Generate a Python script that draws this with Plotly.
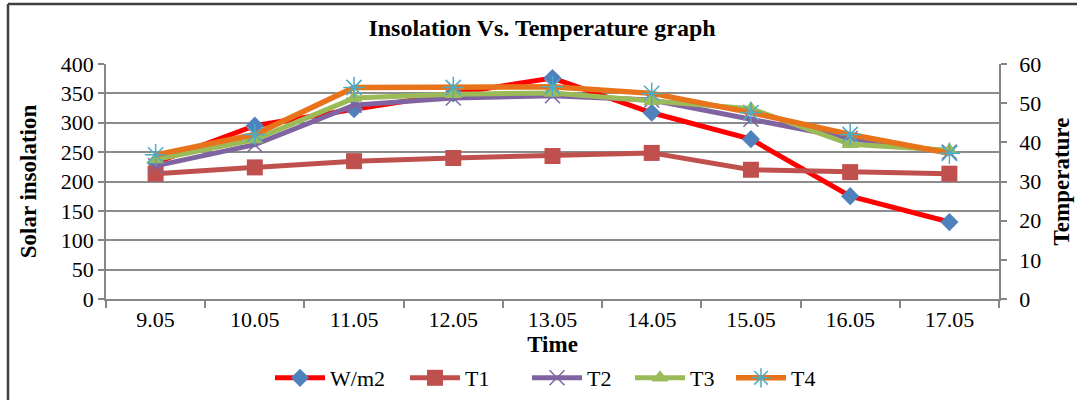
import plotly.graph_objects as go

categories = ["9.05", "10.05", "11.05", "12.05", "13.05", "14.05", "15.05", "16.05", "17.05"]
w_m2 = [232, 295, 323, 350, 376, 317, 272, 175, 131]
t1 = [32.0, 33.6, 35.2, 36.0, 36.5, 37.3, 33.0, 32.4, 32.0]
t2 = [34.0, 39.4, 49.5, 51.3, 51.9, 50.8, 45.9, 41.0, 37.5]
t3 = [35.6, 40.7, 51.3, 52.3, 52.6, 50.5, 48.6, 39.5, 38.0]
t4 = [36.8, 42.0, 54.0, 54.0, 54.2, 52.5, 47.6, 42.0, 37.2]

y1_ticks = [0, 50, 100, 150, 200, 250, 300, 350, 400]
y2_ticks = [0, 10, 20, 30, 40, 50, 60]

FONT = "Liberation Serif"
W, H = 1077, 400
L, R, T, B = 106, 78, 64, 101
pw, ph = W - L - R, H - T - B

# legend entry left positions (px) in the container
legend_x = [270, 405, 527, 630, 731]
legend_names = ["legend", "legend2", "legend3", "legend4", "legend5"]

fig = go.Figure()
fig.add_trace(go.Scatter(x=categories, y=w_m2, name="W/m2", mode="lines+markers",
                         line=dict(color="#FF0000", width=5),
                         marker=dict(symbol="diamond", size=14, color="#4F81BD"),
                         yaxis="y", legend="legend"))
fig.add_trace(go.Scatter(x=categories, y=t1, name="T1", mode="lines+markers",
                         line=dict(color="#C0504D", width=5),
                         marker=dict(symbol="square", size=16, color="#C0504D"),
                         yaxis="y2", legend="legend2"))
fig.add_trace(go.Scatter(x=categories, y=t2, name="T2", mode="lines+markers",
                         line=dict(color="#8064A2", width=5),
                         marker=dict(symbol="x-thin", size=15, color="#8064A2",
                                     line=dict(color="#8064A2", width=1.5)),
                         yaxis="y2", legend="legend3"))
fig.add_trace(go.Scatter(x=categories, y=t3, name="T3", mode="lines+markers",
                         line=dict(color="#9BBB59", width=5),
                         marker=dict(symbol="triangle-up", size=15, color="#9BBB59"),
                         yaxis="y2", legend="legend4"))
fig.add_trace(go.Scatter(x=categories, y=t4, name="T4", mode="lines+markers",
                         line=dict(color="#E8731A", width=5.5),
                         marker=dict(symbol="asterisk-open", size=18, color="#4BACC6",
                                     line=dict(color="#4BACC6", width=1.5)),
                         yaxis="y2", legend="legend5"))

tickfont = dict(family=FONT, size=22, color="#000000")
titlefont = dict(family=FONT, size=23, color="#000000", weight="bold")

layout = dict(
    width=W, height=H,
    margin=dict(l=L, r=R, t=T, b=B, autoexpand=False),
    paper_bgcolor="white", plot_bgcolor="white",
    font=dict(family=FONT, color="#000000"),
    title=dict(text="<b>Insolation Vs. Temperature graph</b>",
               font=dict(family=FONT, size=24, color="#000000"),
               x=542 / W, xanchor="center", xref="container",
               y=1 - 28 / H, yanchor="middle", yref="container"),
    xaxis=dict(type="category", range=[-0.5, 8.5], tickson="boundaries",
               ticks="outside", ticklen=7, tickcolor="#868686", tickwidth=1.5,
               showline=True, linecolor="#868686", linewidth=1.5,
               showgrid=False, tickfont=tickfont, automargin=False,
               title=dict(text="Time", font=titlefont, standoff=5)),
    yaxis=dict(range=[0, 400], tickvals=y1_ticks, ticks="outside", ticklen=6,
               tickcolor="#868686", tickwidth=1.5,
               showline=True, linecolor="#868686", linewidth=1.5,
               showgrid=True, gridcolor="#8C8C8C", gridwidth=1.5,
               zeroline=False, tickfont=tickfont, automargin=False,
               title=dict(text="Solar insolation", font=titlefont, standoff=18)),
    yaxis2=dict(range=[0, 60], tickvals=y2_ticks, overlaying="y", side="right",
                ticks="outside", ticklen=6, tickcolor="#868686", tickwidth=1.5,
                showline=True, linecolor="#868686", linewidth=1.5,
                showgrid=False, zeroline=False, tickfont=tickfont, automargin=False,
                ticklabelstandoff=8,
                title=dict(text="Temperature", font=titlefont, standoff=13)),
    showlegend=True,
)
for name, lx in zip(legend_names, legend_x):
    layout[name] = dict(orientation="h", x=lx / W, xref="container", xanchor="left",
                        y=1 - 378 / H, yref="container", yanchor="middle",
                        font=dict(family=FONT, size=22, color="#000000"),
                        bgcolor="rgba(0,0,0,0)", itemwidth=50)
fig.update_layout(**layout)

# outer chart border (left and top edges visible)
bx = (8 - L) / pw
by = (H - B - 4) / ph
fig.add_shape(type="line", xref="paper", yref="paper", x0=bx, x1=bx, y0=-2, y1=by,
              line=dict(color="#404040", width=2.5))
fig.add_shape(type="line", xref="paper", yref="paper", x0=bx, x1=2, y0=by, y1=by,
              line=dict(color="#404040", width=2.5))

fig.write_html("out.html")
